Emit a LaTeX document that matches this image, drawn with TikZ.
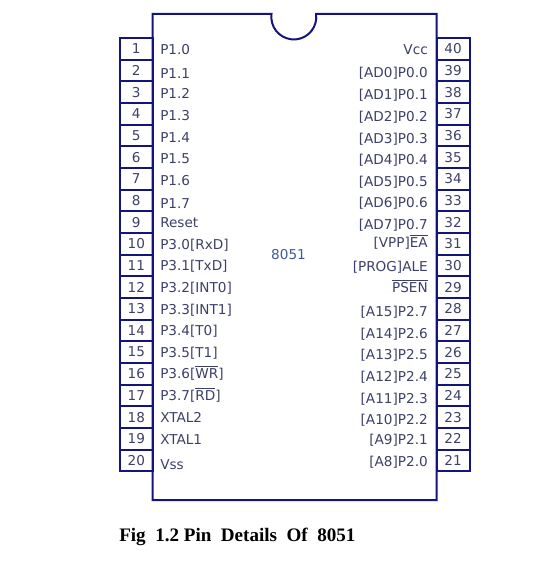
\documentclass[tikz,border=0pt]{standalone}
\usepackage{fontspec}
\setmainfont{DejaVu Sans}
\newfontfamily\capfont{Liberation Serif}
\definecolor{chipblue}{HTML}{14147A}
\definecolor{pintext}{HTML}{3C4068}
\definecolor{chiptext}{HTML}{3F5A96}
\newcommand{\ovl}[1]{$\overline{\hbox{#1}}$}
\begin{document}
\begin{tikzpicture}[x=0.75pt, y=-0.75pt,
    pinbox/.style = {draw=chipblue, line width=1.5pt, minimum width=24.6pt, minimum height=16.2pt, inner sep=0pt, text=pintext, font=\fontsize{10.2}{11}\selectfont},
    pinname/.style = {inner sep=0pt, yshift=-1.3pt, text height=7.5pt, text depth=2pt, text=pintext, font=\fontsize{10.2}{11}\selectfont}]
    \useasboundingbox (0,0) rectangle (554,573);
    % chip outline with notch
    \draw [chipblue, line width=1.5pt] (152.7,500) -- (152.7,14) -- (271.5,14)
        arc [start angle=187.5, end angle=-7.5, radius=22.5]
        -- (436.7,14) -- (436.7,500) -- cycle;
    % left pins
    \foreach \n/\y/\name/\ny in {1/49/P1.0/49, 2/70.6/P1.1/73, 3/92.3/P1.2/93, 4/114/P1.3/115, 5/135.6/P1.4/137,
        6/157.3/P1.5/158, 7/178.9/P1.6/180, 8/200.6/P1.7/203, 9/222.2/Reset/222, 10/243.9/{P3.0[RxD]}/244,
        11/265.5/{P3.1[TxD]}/265, 12/287.2/{P3.2[INT0]}/287, 13/308.8/{P3.3[INT1]}/309, 14/330.5/{P3.4[T0]}/330, 15/352.1/{P3.5[T1]}/352,
        16/373.8/{P3.6[\ovl{WR}]}/373, 17/395.4/{P3.7[\ovl{RD}]}/395, 18/417.1/XTAL2/417, 19/438.7/XTAL1/439, 20/460.4/Vss/464} {
        \node [pinbox] (pin\n) at (136.3,\y) {\n};
        \node [pinname, anchor=west] (name\n) at (160,\ny) {\name};
    }
    % right pins
    \foreach \n/\y/\name/\ny in {40/49/Vcc/49, 39/70.6/{[AD0]P0.0}/72, 38/92.3/{[AD1]P0.1}/94, 37/114/{[AD2]P0.2}/116, 36/135.6/{[AD3]P0.3}/138,
        35/157.3/{[AD4]P0.4}/159, 34/178.9/{[AD5]P0.5}/181, 33/200.6/{[AD6]P0.6}/202, 32/222.2/{[AD7]P0.7}/224, 31/243.9/{[VPP]\ovl{EA}}/242,
        30/265.5/{[PROG]ALE}/266, 29/287.2/\ovl{PSEN}/287, 28/308.8/{[A15]P2.7}/311, 27/330.5/{[A14]P2.6}/333, 26/352.1/{[A13]P2.5}/354,
        25/373.8/{[A12]P2.4}/376, 24/395.4/{[A11]P2.3}/398, 23/417.1/{[A10]P2.2}/419, 22/438.7/{[A9]P2.1}/439, 21/460.4/{[A8]P2.0}/461} {
        \node [pinbox] (pin\n) at (453.1,\y) {\n};
        \node [pinname, anchor=east] (name\n) at (428,\ny) {\name};
    }
    \node [pinname, text=chiptext] (chip) at (288.5,254) {8051};
    \node [anchor=west, inner sep=0pt, font=\capfont\bfseries\fontsize{14.3}{15}\selectfont] (caption) at (119,537) {Fig\ \ 1.2 Pin\ \ Details\ \ Of\ \ 8051};
\end{tikzpicture}
\end{document}
